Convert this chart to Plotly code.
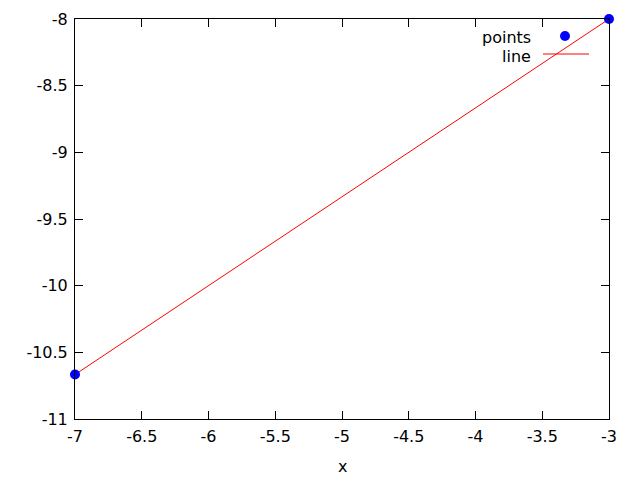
import plotly.graph_objects as go

points_x = [-7, -3]
points_y = [-10.6667, -8]
line_x = [-7, -3]
line_y = [-10.6667, -8]

x_ticks = [-7, -6.5, -6, -5.5, -5, -4.5, -4, -3.5, -3]
x_tick_labels = ["-7", "-6.5", "-6", "-5.5", "-5", "-4.5", "-4", "-3.5", "-3"]
y_ticks = [-11, -10.5, -10, -9.5, -9, -8.5, -8]
y_tick_labels = ["-11", "-10.5", "-10", "-9.5", "-9", "-8.5", "-8"]

font = dict(family="DejaVu Sans", size=16, color="black")

# page body has an 8px margin, so the figure is drawn at 632x472 offset by 8px
OFF = 8
W, H = 632, 472
L, R, T, B = 75 - OFF, 31, 19 - OFF, 61
PW, PH = W - L - R, H - T - B

def px(xpix):
    return (xpix - OFF - L) / PW

def py(ypix):
    return 1 - (ypix - OFF - T) / PH

fig = go.Figure()
fig.add_trace(go.Scatter(x=line_x, y=line_y, mode="lines",
                         line=dict(color="red", width=1), name="line",
                         showlegend=False, cliponaxis=False))
fig.add_trace(go.Scatter(x=points_x, y=points_y, mode="markers",
                         marker=dict(color="blue", size=10), name="points",
                         showlegend=False, cliponaxis=False))

axis_common = dict(showgrid=False, zeroline=False, showline=True, linecolor="black",
                   linewidth=1, mirror="ticks", ticks="inside", ticklen=8,
                   tickcolor="black", tickfont=font, automargin=False)

fig.update_layout(
    width=W, height=H,
    margin=dict(l=L, r=R, t=T, b=B),
    paper_bgcolor="white", plot_bgcolor="white",
    font=font,
    xaxis=dict(range=[-7, -3], tickvals=x_ticks, ticktext=x_tick_labels,
               ticklabelstandoff=3, **axis_common),
    yaxis=dict(range=[-11, -8], tickvals=y_ticks, ticktext=y_tick_labels,
               ticklabelstandoff=3, **axis_common),
)

# x axis title
fig.add_annotation(xref="paper", yref="paper", x=px(342), y=py(466),
                   text="x", showarrow=False, xanchor="center", yanchor="middle", font=font)

# legend drawn gnuplot-style (text on left, sample on right)
fig.add_annotation(xref="paper", yref="paper", x=px(533), y=py(37),
                   text="points", showarrow=False, xanchor="right", yanchor="middle", font=font)
fig.add_annotation(xref="paper", yref="paper", x=px(533), y=py(56),
                   text="line", showarrow=False, xanchor="right", yanchor="middle", font=font)
cx, cy = px(565), py(36)
fig.add_shape(type="circle", xref="paper", yref="paper",
              x0=cx - 5 / PW, x1=cx + 5 / PW, y0=cy - 5 / PH, y1=cy + 5 / PH,
              fillcolor="blue", line=dict(color="blue", width=0))
ly = py(54)
fig.add_shape(type="line", xref="paper", yref="paper",
              x0=px(543), x1=px(589), y0=ly, y1=ly,
              line=dict(color="red", width=1))

fig.write_html("out.html")
